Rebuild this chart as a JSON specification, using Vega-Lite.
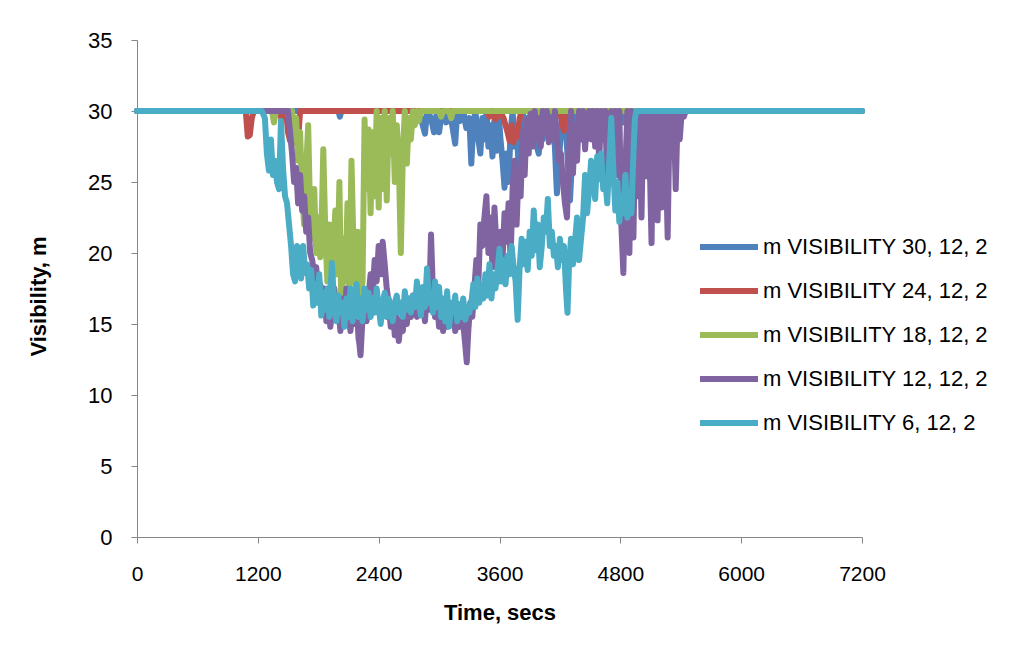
{
"$schema": "https://vega.github.io/schema/vega-lite/v6.json",
"width": 725, "height": 497,
"autosize": {"type": "none"},
"padding": {"left": 137, "top": 40, "right": 163, "bottom": 118},
"background": "white",
"config": {"view": {"stroke": null}, "font": "Liberation Sans"},
"data": {"values": [
{"s":"30","t":0,"v":30},{"s":"30","t":2000,"v":30},{"s":"30","t":2015,"v":29.6},{"s":"30","t":2030,"v":30},{"s":"30","t":2800,"v":30},{"s":"30","t":2830,"v":29.2},{"s":"30","t":2860,"v":28.4},{"s":"30","t":2880,"v":30},{"s":"30","t":2920,"v":29.5},{"s":"30","t":2950,"v":28.5},{"s":"30","t":2980,"v":30},{"s":"30","t":3000,"v":28.5},{"s":"30","t":3020,"v":29.6},{"s":"30","t":3050,"v":30},{"s":"30","t":3070,"v":29.2},{"s":"30","t":3100,"v":30},{"s":"30","t":3130,"v":29},{"s":"30","t":3160,"v":27.7},{"s":"30","t":3180,"v":30},{"s":"30","t":3210,"v":29.3},{"s":"30","t":3240,"v":30},{"s":"30","t":3270,"v":28.8},{"s":"30","t":3300,"v":29.5},{"s":"30","t":3320,"v":26.3},{"s":"30","t":3340,"v":29},{"s":"30","t":3360,"v":30},{"s":"30","t":3390,"v":28},{"s":"30","t":3410,"v":27},{"s":"30","t":3430,"v":29.5},{"s":"30","t":3450,"v":28},{"s":"30","t":3470,"v":30},{"s":"30","t":3490,"v":27.5},{"s":"30","t":3510,"v":29},{"s":"30","t":3530,"v":26.8},{"s":"30","t":3550,"v":29.5},{"s":"30","t":3570,"v":27.2},{"s":"30","t":3590,"v":30},{"s":"30","t":3610,"v":28},{"s":"30","t":3630,"v":26.5},{"s":"30","t":3650,"v":24.6},{"s":"30","t":3670,"v":27},{"s":"30","t":3690,"v":25},{"s":"30","t":3710,"v":28.5},{"s":"30","t":3730,"v":30},{"s":"30","t":3750,"v":27.5},{"s":"30","t":3770,"v":29},{"s":"30","t":3790,"v":26},{"s":"30","t":3810,"v":29.5},{"s":"30","t":3830,"v":30},{"s":"30","t":3850,"v":28.5},{"s":"30","t":3870,"v":29.5},{"s":"30","t":3890,"v":28.4},{"s":"30","t":3910,"v":30},{"s":"30","t":3930,"v":28.8},{"s":"30","t":3950,"v":29.5},{"s":"30","t":3970,"v":27.5},{"s":"30","t":3990,"v":27},{"s":"30","t":4010,"v":29},{"s":"30","t":4030,"v":28},{"s":"30","t":4050,"v":30},{"s":"30","t":4070,"v":29},{"s":"30","t":4090,"v":30},{"s":"30","t":4120,"v":29.2},{"s":"30","t":4150,"v":27.5},{"s":"30","t":4170,"v":24.2},{"s":"30","t":4190,"v":26},{"s":"30","t":4210,"v":29},{"s":"30","t":4240,"v":30},{"s":"30","t":4270,"v":27.5},{"s":"30","t":4300,"v":23.7},{"s":"30","t":4320,"v":26.5},{"s":"30","t":4340,"v":28.8},{"s":"30","t":4360,"v":30},{"s":"30","t":4380,"v":28.8},{"s":"30","t":4400,"v":30},{"s":"30","t":4800,"v":30},{"s":"30","t":4830,"v":29.2},{"s":"30","t":4860,"v":30},{"s":"30","t":4890,"v":29.4},{"s":"30","t":4910,"v":30},{"s":"30","t":7200,"v":30},
{"s":"24","t":0,"v":30},{"s":"24","t":1080,"v":30},{"s":"24","t":1100,"v":28.2},{"s":"24","t":1120,"v":28.3},{"s":"24","t":1140,"v":29.5},{"s":"24","t":1160,"v":30},{"s":"24","t":1420,"v":30},{"s":"24","t":1435,"v":29.4},{"s":"24","t":1450,"v":30},{"s":"24","t":1480,"v":30},{"s":"24","t":1500,"v":28.5},{"s":"24","t":1520,"v":27.9},{"s":"24","t":1540,"v":29},{"s":"24","t":1560,"v":27.8},{"s":"24","t":1580,"v":28.5},{"s":"24","t":1600,"v":28},{"s":"24","t":1620,"v":30},{"s":"24","t":3480,"v":30},{"s":"24","t":3500,"v":29.6},{"s":"24","t":3530,"v":30},{"s":"24","t":3560,"v":29.4},{"s":"24","t":3600,"v":30},{"s":"24","t":3640,"v":29.5},{"s":"24","t":3680,"v":28.5},{"s":"24","t":3700,"v":27.9},{"s":"24","t":3720,"v":29},{"s":"24","t":3740,"v":27.8},{"s":"24","t":3760,"v":28.5},{"s":"24","t":3780,"v":28.2},{"s":"24","t":3800,"v":29.5},{"s":"24","t":3820,"v":30},{"s":"24","t":4200,"v":30},{"s":"24","t":4220,"v":29.2},{"s":"24","t":4240,"v":28.6},{"s":"24","t":4260,"v":30},{"s":"24","t":7200,"v":30},
{"s":"18","t":0,"v":30},{"s":"18","t":1340,"v":30},{"s":"18","t":1360,"v":29.2},{"s":"18","t":1380,"v":30},{"s":"18","t":1500,"v":30},{"s":"18","t":1520,"v":29},{"s":"18","t":1540,"v":30},{"s":"18","t":1560,"v":28},{"s":"18","t":1580,"v":29.5},{"s":"18","t":1600,"v":26.5},{"s":"18","t":1620,"v":28.5},{"s":"18","t":1640,"v":24},{"s":"18","t":1660,"v":22},{"s":"18","t":1680,"v":26},{"s":"18","t":1700,"v":29},{"s":"18","t":1720,"v":22.5},{"s":"18","t":1740,"v":21},{"s":"18","t":1760,"v":24.5},{"s":"18","t":1780,"v":20},{"s":"18","t":1800,"v":22.5},{"s":"18","t":1820,"v":19.7},{"s":"18","t":1840,"v":24},{"s":"18","t":1850,"v":27.3},{"s":"18","t":1870,"v":21.5},{"s":"18","t":1890,"v":18},{"s":"18","t":1910,"v":22},{"s":"18","t":1930,"v":16.3},{"s":"18","t":1950,"v":20.5},{"s":"18","t":1970,"v":23},{"s":"18","t":1990,"v":18.5},{"s":"18","t":2010,"v":25},{"s":"18","t":2030,"v":15.5},{"s":"18","t":2050,"v":21},{"s":"18","t":2070,"v":18},{"s":"18","t":2090,"v":23.5},{"s":"18","t":2110,"v":17.6},{"s":"18","t":2130,"v":26.5},{"s":"18","t":2150,"v":20.5},{"s":"18","t":2170,"v":17.8},{"s":"18","t":2190,"v":21.5},{"s":"18","t":2200,"v":13.9},{"s":"18","t":2220,"v":17},{"s":"18","t":2240,"v":18},{"s":"18","t":2260,"v":29.4},{"s":"18","t":2280,"v":24.5},{"s":"18","t":2300,"v":28.7},{"s":"18","t":2320,"v":22.8},{"s":"18","t":2340,"v":28.5},{"s":"18","t":2360,"v":24},{"s":"18","t":2380,"v":30},{"s":"18","t":2400,"v":23.2},{"s":"18","t":2420,"v":29.5},{"s":"18","t":2440,"v":24.5},{"s":"18","t":2460,"v":30},{"s":"18","t":2480,"v":23.7},{"s":"18","t":2500,"v":29.5},{"s":"18","t":2520,"v":27},{"s":"18","t":2540,"v":30},{"s":"18","t":2560,"v":25},{"s":"18","t":2580,"v":29},{"s":"18","t":2600,"v":26.5},{"s":"18","t":2620,"v":20},{"s":"18","t":2640,"v":27},{"s":"18","t":2660,"v":30},{"s":"18","t":2680,"v":26.3},{"s":"18","t":2700,"v":29.5},{"s":"18","t":2720,"v":28},{"s":"18","t":2740,"v":30},{"s":"18","t":2760,"v":29},{"s":"18","t":2780,"v":30},{"s":"18","t":2800,"v":29.3},{"s":"18","t":2820,"v":30},{"s":"18","t":3000,"v":30},{"s":"18","t":3020,"v":29.6},{"s":"18","t":3040,"v":30},{"s":"18","t":3100,"v":30},{"s":"18","t":3120,"v":29.5},{"s":"18","t":3140,"v":30},{"s":"18","t":4000,"v":30},{"s":"18","t":4020,"v":29.6},{"s":"18","t":4040,"v":30},{"s":"18","t":4500,"v":30},{"s":"18","t":4520,"v":29.6},{"s":"18","t":4540,"v":30},{"s":"18","t":7200,"v":30},
{"s":"12","t":0,"v":30},{"s":"12","t":1500,"v":30},{"s":"12","t":1520,"v":28.5},{"s":"12","t":1540,"v":27},{"s":"12","t":1560,"v":25},{"s":"12","t":1580,"v":26},{"s":"12","t":1600,"v":23.5},{"s":"12","t":1620,"v":25.5},{"s":"12","t":1640,"v":23},{"s":"12","t":1660,"v":24},{"s":"12","t":1680,"v":21.5},{"s":"12","t":1700,"v":22.5},{"s":"12","t":1720,"v":20},{"s":"12","t":1740,"v":19.5},{"s":"12","t":1760,"v":18.5},{"s":"12","t":1780,"v":19},{"s":"12","t":1800,"v":17},{"s":"12","t":1820,"v":17.8},{"s":"12","t":1840,"v":16},{"s":"12","t":1860,"v":17.5},{"s":"12","t":1880,"v":15.2},{"s":"12","t":1900,"v":16.5},{"s":"12","t":1920,"v":14.8},{"s":"12","t":1940,"v":16},{"s":"12","t":1960,"v":17.5},{"s":"12","t":1980,"v":15.5},{"s":"12","t":2000,"v":16.2},{"s":"12","t":2020,"v":14.5},{"s":"12","t":2040,"v":16.8},{"s":"12","t":2060,"v":15.2},{"s":"12","t":2080,"v":17.5},{"s":"12","t":2100,"v":15.8},{"s":"12","t":2120,"v":14.5},{"s":"12","t":2140,"v":16.5},{"s":"12","t":2160,"v":15},{"s":"12","t":2180,"v":16.2},{"s":"12","t":2200,"v":14.2},{"s":"12","t":2220,"v":12.8},{"s":"12","t":2240,"v":15.5},{"s":"12","t":2260,"v":16.8},{"s":"12","t":2280,"v":15.2},{"s":"12","t":2300,"v":17},{"s":"12","t":2320,"v":18.5},{"s":"12","t":2340,"v":17.2},{"s":"12","t":2360,"v":19.5},{"s":"12","t":2380,"v":18},{"s":"12","t":2400,"v":20.5},{"s":"12","t":2420,"v":18.5},{"s":"12","t":2440,"v":20.8},{"s":"12","t":2460,"v":19.2},{"s":"12","t":2480,"v":17.5},{"s":"12","t":2500,"v":16.5},{"s":"12","t":2520,"v":14.8},{"s":"12","t":2540,"v":16.2},{"s":"12","t":2560,"v":14.2},{"s":"12","t":2580,"v":15.5},{"s":"12","t":2600,"v":13.8},{"s":"12","t":2620,"v":15.2},{"s":"12","t":2640,"v":14.5},{"s":"12","t":2660,"v":16.5},{"s":"12","t":2680,"v":15},{"s":"12","t":2700,"v":16.8},{"s":"12","t":2720,"v":15.5},{"s":"12","t":2740,"v":17},{"s":"12","t":2760,"v":16.2},{"s":"12","t":2780,"v":15.5},{"s":"12","t":2800,"v":17.2},{"s":"12","t":2820,"v":15.8},{"s":"12","t":2840,"v":16.5},{"s":"12","t":2860,"v":15.2},{"s":"12","t":2880,"v":17.5},{"s":"12","t":2900,"v":16},{"s":"12","t":2920,"v":21.3},{"s":"12","t":2940,"v":17},{"s":"12","t":2960,"v":15.5},{"s":"12","t":2980,"v":16.5},{"s":"12","t":3000,"v":14.8},{"s":"12","t":3020,"v":16.2},{"s":"12","t":3040,"v":14.5},{"s":"12","t":3060,"v":15.8},{"s":"12","t":3080,"v":14.8},{"s":"12","t":3100,"v":16},{"s":"12","t":3120,"v":15},{"s":"12","t":3140,"v":16.5},{"s":"12","t":3160,"v":14.5},{"s":"12","t":3180,"v":15.2},{"s":"12","t":3200,"v":14.8},{"s":"12","t":3220,"v":16.2},{"s":"12","t":3240,"v":15},{"s":"12","t":3260,"v":13.5},{"s":"12","t":3275,"v":12.3},{"s":"12","t":3290,"v":14.5},{"s":"12","t":3310,"v":16.5},{"s":"12","t":3330,"v":15.5},{"s":"12","t":3350,"v":17.5},{"s":"12","t":3370,"v":19.5},{"s":"12","t":3390,"v":17.8},{"s":"12","t":3410,"v":22},{"s":"12","t":3430,"v":20.5},{"s":"12","t":3450,"v":22.5},{"s":"12","t":3470,"v":24},{"s":"12","t":3490,"v":20},{"s":"12","t":3510,"v":22.5},{"s":"12","t":3530,"v":19},{"s":"12","t":3550,"v":23.2},{"s":"12","t":3570,"v":20.5},{"s":"12","t":3590,"v":18},{"s":"12","t":3610,"v":21.5},{"s":"12","t":3630,"v":19.5},{"s":"12","t":3650,"v":22.8},{"s":"12","t":3670,"v":20.8},{"s":"12","t":3690,"v":23.5},{"s":"12","t":3710,"v":19.5},{"s":"12","t":3730,"v":24.5},{"s":"12","t":3750,"v":26.5},{"s":"12","t":3770,"v":22},{"s":"12","t":3790,"v":26},{"s":"12","t":3810,"v":24},{"s":"12","t":3830,"v":28.5},{"s":"12","t":3850,"v":25.5},{"s":"12","t":3870,"v":29.4},{"s":"12","t":3890,"v":27},{"s":"12","t":3910,"v":29.8},{"s":"12","t":3930,"v":27.5},{"s":"12","t":3950,"v":30},{"s":"12","t":3970,"v":28},{"s":"12","t":3990,"v":29.5},{"s":"12","t":4010,"v":27.5},{"s":"12","t":4030,"v":30},{"s":"12","t":4050,"v":28.5},{"s":"12","t":4070,"v":30},{"s":"12","t":4090,"v":27.8},{"s":"12","t":4110,"v":29.5},{"s":"12","t":4130,"v":28},{"s":"12","t":4150,"v":30},{"s":"12","t":4170,"v":28},{"s":"12","t":4190,"v":26.5},{"s":"12","t":4210,"v":27},{"s":"12","t":4230,"v":25},{"s":"12","t":4250,"v":23.5},{"s":"12","t":4270,"v":22.5},{"s":"12","t":4290,"v":27},{"s":"12","t":4310,"v":30},{"s":"12","t":4330,"v":25.6},{"s":"12","t":4350,"v":29},{"s":"12","t":4370,"v":26.5},{"s":"12","t":4390,"v":30},{"s":"12","t":4410,"v":28},{"s":"12","t":4430,"v":30},{"s":"12","t":4450,"v":27.3},{"s":"12","t":4470,"v":29.5},{"s":"12","t":4490,"v":30},{"s":"12","t":4510,"v":28},{"s":"12","t":4530,"v":30},{"s":"12","t":4550,"v":27.5},{"s":"12","t":4570,"v":30},{"s":"12","t":4590,"v":26.5},{"s":"12","t":4610,"v":30},{"s":"12","t":4630,"v":28},{"s":"12","t":4650,"v":30},{"s":"12","t":4670,"v":24.9},{"s":"12","t":4690,"v":29},{"s":"12","t":4710,"v":30},{"s":"12","t":4730,"v":26.5},{"s":"12","t":4750,"v":30},{"s":"12","t":4770,"v":25.5},{"s":"12","t":4790,"v":30},{"s":"12","t":4810,"v":22},{"s":"12","t":4830,"v":18.6},{"s":"12","t":4850,"v":26},{"s":"12","t":4870,"v":30},{"s":"12","t":4890,"v":20},{"s":"12","t":4910,"v":30},{"s":"12","t":4930,"v":21.1},{"s":"12","t":4950,"v":29.5},{"s":"12","t":4970,"v":24},{"s":"12","t":4990,"v":30},{"s":"12","t":5010,"v":22.5},{"s":"12","t":5030,"v":30},{"s":"12","t":5050,"v":25.4},{"s":"12","t":5070,"v":30},{"s":"12","t":5090,"v":27},{"s":"12","t":5110,"v":20.7},{"s":"12","t":5130,"v":30},{"s":"12","t":5150,"v":28},{"s":"12","t":5170,"v":22.3},{"s":"12","t":5190,"v":30},{"s":"12","t":5210,"v":23.2},{"s":"12","t":5230,"v":30},{"s":"12","t":5250,"v":27.5},{"s":"12","t":5270,"v":21.1},{"s":"12","t":5290,"v":30},{"s":"12","t":5310,"v":28},{"s":"12","t":5330,"v":30},{"s":"12","t":5350,"v":24.5},{"s":"12","t":5370,"v":30},{"s":"12","t":5390,"v":28},{"s":"12","t":5410,"v":30},{"s":"12","t":5430,"v":29.6},{"s":"12","t":5450,"v":30},{"s":"12","t":7200,"v":30},
{"s":"6","t":0,"v":30},{"s":"6","t":1240,"v":30},{"s":"6","t":1270,"v":29.5},{"s":"6","t":1290,"v":27},{"s":"6","t":1310,"v":25.8},{"s":"6","t":1330,"v":28},{"s":"6","t":1350,"v":25.5},{"s":"6","t":1370,"v":26.5},{"s":"6","t":1390,"v":25},{"s":"6","t":1410,"v":24.5},{"s":"6","t":1430,"v":29.3},{"s":"6","t":1450,"v":26},{"s":"6","t":1470,"v":24},{"s":"6","t":1490,"v":23.5},{"s":"6","t":1510,"v":22},{"s":"6","t":1530,"v":20.5},{"s":"6","t":1550,"v":18.5},{"s":"6","t":1570,"v":18},{"s":"6","t":1590,"v":20.5},{"s":"6","t":1610,"v":19},{"s":"6","t":1630,"v":18.2},{"s":"6","t":1650,"v":20.5},{"s":"6","t":1670,"v":18.6},{"s":"6","t":1690,"v":19.2},{"s":"6","t":1710,"v":17.5},{"s":"6","t":1730,"v":18.8},{"s":"6","t":1750,"v":16.3},{"s":"6","t":1770,"v":17.8},{"s":"6","t":1790,"v":16.5},{"s":"6","t":1810,"v":18.5},{"s":"6","t":1830,"v":15.6},{"s":"6","t":1850,"v":17.2},{"s":"6","t":1870,"v":16},{"s":"6","t":1890,"v":17.5},{"s":"6","t":1910,"v":15.5},{"s":"6","t":1935,"v":19.3},{"s":"6","t":1960,"v":16.2},{"s":"6","t":1980,"v":15.2},{"s":"6","t":2000,"v":17},{"s":"6","t":2020,"v":15.8},{"s":"6","t":2040,"v":16.5},{"s":"6","t":2060,"v":14.8},{"s":"6","t":2080,"v":16.8},{"s":"6","t":2100,"v":15.5},{"s":"6","t":2120,"v":17.5},{"s":"6","t":2140,"v":15.2},{"s":"6","t":2160,"v":16.4},{"s":"6","t":2180,"v":17.8},{"s":"6","t":2200,"v":15.5},{"s":"6","t":2220,"v":16.8},{"s":"6","t":2240,"v":15.2},{"s":"6","t":2260,"v":17.5},{"s":"6","t":2280,"v":16},{"s":"6","t":2300,"v":17.2},{"s":"6","t":2320,"v":15.5},{"s":"6","t":2340,"v":16.8},{"s":"6","t":2360,"v":15.8},{"s":"6","t":2380,"v":17.5},{"s":"6","t":2400,"v":16.2},{"s":"6","t":2420,"v":15},{"s":"6","t":2440,"v":16.5},{"s":"6","t":2460,"v":17.2},{"s":"6","t":2480,"v":15.5},{"s":"6","t":2500,"v":16.8},{"s":"6","t":2520,"v":16},{"s":"6","t":2540,"v":15.2},{"s":"6","t":2560,"v":16.5},{"s":"6","t":2580,"v":17},{"s":"6","t":2600,"v":15.8},{"s":"6","t":2620,"v":16.5},{"s":"6","t":2640,"v":15.5},{"s":"6","t":2660,"v":17.3},{"s":"6","t":2680,"v":16},{"s":"6","t":2700,"v":16.8},{"s":"6","t":2720,"v":15.8},{"s":"6","t":2740,"v":17},{"s":"6","t":2760,"v":16.2},{"s":"6","t":2780,"v":18},{"s":"6","t":2800,"v":16.5},{"s":"6","t":2820,"v":15.6},{"s":"6","t":2840,"v":17.6},{"s":"6","t":2860,"v":16.2},{"s":"6","t":2880,"v":18.9},{"s":"6","t":2900,"v":16.5},{"s":"6","t":2920,"v":17.2},{"s":"6","t":2940,"v":15.8},{"s":"6","t":2960,"v":18},{"s":"6","t":2980,"v":16.2},{"s":"6","t":3000,"v":17.6},{"s":"6","t":3020,"v":15.5},{"s":"6","t":3040,"v":16.8},{"s":"6","t":3060,"v":15.2},{"s":"6","t":3080,"v":17.3},{"s":"6","t":3100,"v":14.8},{"s":"6","t":3120,"v":16.5},{"s":"6","t":3140,"v":15.8},{"s":"6","t":3160,"v":17},{"s":"6","t":3180,"v":15.2},{"s":"6","t":3200,"v":16.4},{"s":"6","t":3220,"v":15.5},{"s":"6","t":3240,"v":16.8},{"s":"6","t":3260,"v":15.3},{"s":"6","t":3280,"v":16.2},{"s":"6","t":3300,"v":15.8},{"s":"6","t":3320,"v":16.5},{"s":"6","t":3340,"v":17.8},{"s":"6","t":3360,"v":16.2},{"s":"6","t":3380,"v":18.2},{"s":"6","t":3400,"v":16.5},{"s":"6","t":3420,"v":17.8},{"s":"6","t":3440,"v":16.8},{"s":"6","t":3460,"v":18.5},{"s":"6","t":3480,"v":17},{"s":"6","t":3500,"v":19.2},{"s":"6","t":3520,"v":16.8},{"s":"6","t":3540,"v":18.5},{"s":"6","t":3560,"v":17.5},{"s":"6","t":3580,"v":18.8},{"s":"6","t":3600,"v":20.3},{"s":"6","t":3620,"v":18},{"s":"6","t":3640,"v":19.5},{"s":"6","t":3660,"v":17.8},{"s":"6","t":3680,"v":19.8},{"s":"6","t":3700,"v":18.5},{"s":"6","t":3720,"v":20.5},{"s":"6","t":3740,"v":19},{"s":"6","t":3760,"v":18},{"s":"6","t":3780,"v":15.3},{"s":"6","t":3800,"v":19},{"s":"6","t":3820,"v":21},{"s":"6","t":3840,"v":19.2},{"s":"6","t":3860,"v":20.8},{"s":"6","t":3880,"v":18.8},{"s":"6","t":3900,"v":21.5},{"s":"6","t":3920,"v":19.8},{"s":"6","t":3940,"v":23},{"s":"6","t":3960,"v":20.2},{"s":"6","t":3980,"v":22},{"s":"6","t":4000,"v":19},{"s":"6","t":4020,"v":20.5},{"s":"6","t":4040,"v":22.5},{"s":"6","t":4060,"v":21.5},{"s":"6","t":4080,"v":23.8},{"s":"6","t":4100,"v":20.5},{"s":"6","t":4120,"v":21.5},{"s":"6","t":4140,"v":19.8},{"s":"6","t":4160,"v":20.5},{"s":"6","t":4180,"v":19},{"s":"6","t":4200,"v":21},{"s":"6","t":4220,"v":19.5},{"s":"6","t":4240,"v":20.5},{"s":"6","t":4260,"v":17.5},{"s":"6","t":4275,"v":15.8},{"s":"6","t":4290,"v":19},{"s":"6","t":4310,"v":21},{"s":"6","t":4330,"v":19.2},{"s":"6","t":4350,"v":20.8},{"s":"6","t":4370,"v":22.5},{"s":"6","t":4390,"v":19.5},{"s":"6","t":4410,"v":21},{"s":"6","t":4430,"v":22.5},{"s":"6","t":4450,"v":25.5},{"s":"6","t":4470,"v":22.8},{"s":"6","t":4490,"v":24.5},{"s":"6","t":4510,"v":26.5},{"s":"6","t":4530,"v":25},{"s":"6","t":4550,"v":23.8},{"s":"6","t":4570,"v":26.8},{"s":"6","t":4590,"v":25.2},{"s":"6","t":4610,"v":27},{"s":"6","t":4630,"v":24.5},{"s":"6","t":4650,"v":25.2},{"s":"6","t":4670,"v":23.5},{"s":"6","t":4690,"v":26.5},{"s":"6","t":4710,"v":29.5},{"s":"6","t":4730,"v":26},{"s":"6","t":4750,"v":23},{"s":"6","t":4770,"v":25},{"s":"6","t":4790,"v":22.2},{"s":"6","t":4810,"v":24},{"s":"6","t":4830,"v":22.8},{"s":"6","t":4850,"v":25.5},{"s":"6","t":4870,"v":22.5},{"s":"6","t":4890,"v":23.5},{"s":"6","t":4910,"v":22.8},{"s":"6","t":4930,"v":27},{"s":"6","t":4945,"v":29.5},{"s":"6","t":4960,"v":30},{"s":"6","t":7200,"v":30}
]},
"encoding": {
  "x": {"field": "t", "type": "quantitative",
        "scale": {"domain": [0, 7200], "nice": false, "zero": false},
        "axis": {"values": [0, 1200, 2400, 3600, 4800, 6000, 7200], "format": "d", "title": "Time, secs", "grid": false,
                 "domainColor": "#868686", "tickColor": "#868686", "tickSize": 6, "labelFont": "Liberation Sans", "labelFontSize": 21, "labelColor": "black",
                 "labelPadding": 20, "labelFlush": false, "labelOverlap": false,
                 "titleFont": "Liberation Sans", "titleFontSize": 22, "titleFontWeight": "bold", "titleColor": "black",
                 "titleBaseline": "alphabetic", "titleY": 82}},
  "y": {"field": "v", "type": "quantitative",
        "scale": {"domain": [0, 35], "nice": false},
        "axis": {"values": [0, 5, 10, 15, 20, 25, 30, 35], "title": "Visibility, m", "grid": false,
                 "domainColor": "#868686", "tickColor": "#868686", "tickSize": 6, "labelFont": "Liberation Sans", "labelFontSize": 22, "labelColor": "black",
                 "labelPadding": 19, "labelFlush": false, "labelOverlap": false,
                 "titleFont": "Liberation Sans", "titleFontSize": 22, "titleFontWeight": "bold", "titleColor": "black",
                 "titleAngle": -90, "titleBaseline": "alphabetic", "titleAlign": "center", "titleX": -92, "titleY": 256}},
  "color": {"field": "s", "type": "nominal",
            "scale": {"domain": ["30", "24", "18", "12", "6"], "range": ["#4F81BD", "#C0504D", "#9BBB59", "#8064A2", "#4BACC6"]},
            "legend": {"orient": "none", "legendX": 560, "legendY": 175, "title": null, "symbolType": "stroke",
                       "symbolSize": 3364, "symbolStrokeWidth": 6, "labelFont": "Liberation Sans", "labelFontSize": 22, "labelColor": "black",
                       "labelLimit": 500, "rowPadding": -19, "labelOffset": 2, "padding": 0,
                       "labelExpr": "'m VISIBILITY ' + datum.label + ', 12, 2'"}}
},
"layer": [
  {"transform": [{"filter": {"field": "s", "equal": "30"}}], "mark": {"type": "line", "strokeWidth": 6, "strokeCap": "round", "strokeJoin": "round"}},
  {"transform": [{"filter": {"field": "s", "equal": "24"}}], "mark": {"type": "line", "strokeWidth": 6, "strokeCap": "round", "strokeJoin": "round"}},
  {"transform": [{"filter": {"field": "s", "equal": "18"}}], "mark": {"type": "line", "strokeWidth": 6, "strokeCap": "round", "strokeJoin": "round"}},
  {"transform": [{"filter": {"field": "s", "equal": "12"}}], "mark": {"type": "line", "strokeWidth": 6, "strokeCap": "round", "strokeJoin": "round"}},
  {"transform": [{"filter": {"field": "s", "equal": "6"}}], "mark": {"type": "line", "strokeWidth": 6, "strokeCap": "round", "strokeJoin": "round"}}
]
}
